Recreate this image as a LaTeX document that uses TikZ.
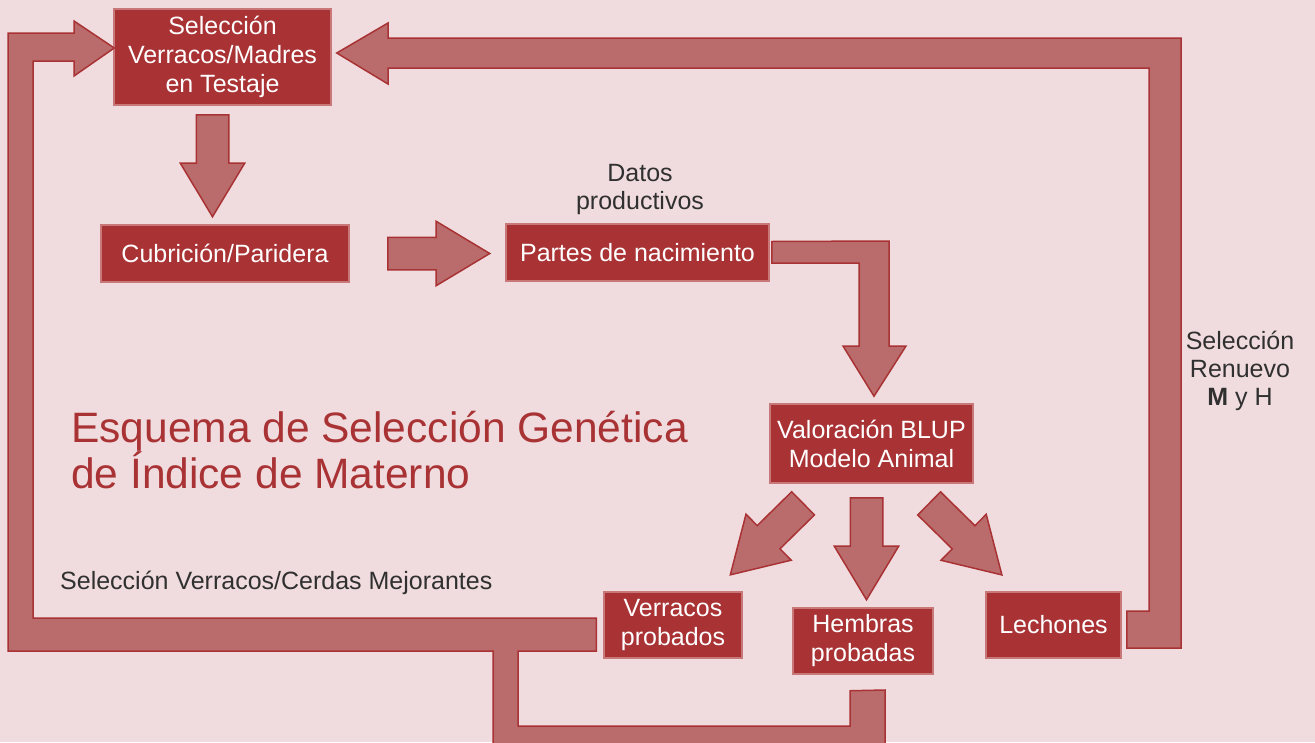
\documentclass[tikz,border=0pt]{standalone}
\usepackage{fontspec}
\setmainfont{Liberation Sans}
\usetikzlibrary{calc,shapes.arrows,positioning}
\definecolor{bgpink}{HTML}{F0DCDE}
\definecolor{boxred}{HTML}{A93234}
\definecolor{boxedge}{HTML}{C87878}
\definecolor{bandred}{HTML}{BA6C6C}
\definecolor{txtgray}{HTML}{303030}
\tikzstyle{box}=[rectangle, fill=boxred, draw=boxedge, line width=1.5pt, text=white, inner sep=1pt, align=center, font=\fontsize{25}{29}\selectfont]
\tikzstyle{note}=[text=txtgray, inner sep=0pt, align=center, font=\fontsize{25}{28}\selectfont]
\tikzstyle{blk}=[single arrow, fill=bandred, draw=boxred, line width=1.5pt, inner xsep=0pt, inner ysep=15.5pt, minimum height=102pt, single arrow head extend=16pt, single arrow tip angle=62, anchor=tail]
\tikzstyle{band}=[fill=bandred, draw=boxred, line width=1.5pt, line join=miter]

\begin{document}
\begin{tikzpicture}[x=1pt,y=-1pt]
        \useasboundingbox (0,0) rectangle (1315,742);
        \fill[bgpink] (0,0) rectangle (1315,742);
        \clip (0,0) rectangle (1315,742);

        \node[box, minimum width=217pt, minimum height=96pt] (sel) at (222.5,57) {Selección\\Verracos/Madres\\en Testaje};
        \node[box, minimum width=248pt, minimum height=57pt] (cub) at (225,253.5) {Cubrición/Paridera};
        \node[box, minimum width=263pt, minimum height=57pt] (partes) at (637.5,252.5) {Partes de nacimiento};
        \node[box, minimum width=203pt, minimum height=79pt] (valor) at (871.5,443.5) {Valoración BLUP\\Modelo Animal};
        \node[box, minimum width=138pt, minimum height=66pt] (verr) at (673,625) {Verracos\\probados};
        \node[box, minimum width=140pt, minimum height=66pt] (hemb) at (863,641) {Hembras\\probadas};
        \node[box, minimum width=135pt, minimum height=66pt] (lech) at (1053.5,625) {Lechones};

        \node[note] (datos) at (640,189) {Datos\\productivos};
        \node[note] (renuevo) at (1240,371) {Selección\\Renuevo\\\textbf{M} y H};
        \node[note, anchor=west] (mejor) at (60,583) {Selección Verracos/Cerdas Mejorantes};
        \node[anchor=west, inner sep=0pt, text=boxred, align=left, font=\fontsize{42.5}{46}\selectfont] (titulo) at (71,450) {Esquema de Selección Genética\\de Índice de Materno};

        \foreach \n/\x/\y/\r in {a1/212.5/114/-90, a2/387/253.5/0, a3/866.5/497/-90, a4/803.6/502.8/224.5, a5/928.6/502.9/-44.5}
            \node[blk, rotate=\r] (\n) at (\x,\y) {};

        \draw[band] ($(partes.east)+(2,-11)$) -- (889,241) -- (889,346) -- (906,346) -- ($(valor.north)+(2.5,-7)$) -- (843,346) -- (859,346) -- (859,263) -- ($(partes.east)+(2,10.5)$) -- cycle;
        \draw[band] ($(lech.east)+(5,-14)$) -- (1149,611) -- (1149,68) -- (388,68) -- (388,84) -- ($(sel.east)+(5,-4)$) -- (388,23) -- (388,38) -- (1181,38) -- (1181,648) -- ($(lech.east)+(5,23)$) -- cycle;
        \draw[band] ($(verr.west)+(-7,-7)$) -- (33,618) -- (33,61) -- (74,61) -- (74,76) -- ($(sel.west)+(1,-9)$) -- (74,21) -- (74,33) -- (8,33) -- (8,651) -- (493,651) -- (493,770) -- (885,770) -- (885,690) -- ($(hemb.south)+(-13,16)$) -- (850,726) -- (518,726) -- (518,651) -- ($(verr.west)+(-7,26)$) -- cycle;
\end{tikzpicture}
\end{document}
